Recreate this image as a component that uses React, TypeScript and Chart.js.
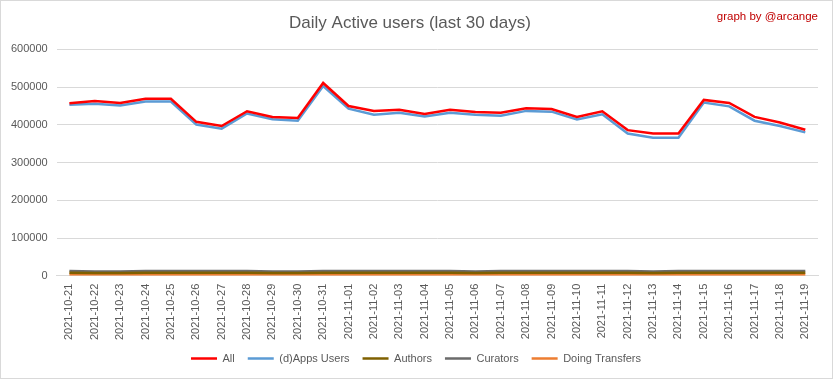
import React, { useEffect, useRef } from "react";
import { Chart, registerables } from "chart.js";

Chart.register(...registerables);

const dates = [
  "2021-10-21", "2021-10-22", "2021-10-23", "2021-10-24", "2021-10-25",
  "2021-10-26", "2021-10-27", "2021-10-28", "2021-10-29", "2021-10-30",
  "2021-10-31", "2021-11-01", "2021-11-02", "2021-11-03", "2021-11-04",
  "2021-11-05", "2021-11-06", "2021-11-07", "2021-11-08", "2021-11-09",
  "2021-11-10", "2021-11-11", "2021-11-12", "2021-11-13", "2021-11-14",
  "2021-11-15", "2021-11-16", "2021-11-17", "2021-11-18", "2021-11-19",
];

const allUsers = [
  457000, 463000, 458000, 469000, 469000, 408000, 397000, 436000, 421000, 418000,
  511000, 450000, 437000, 440000, 429000, 440000, 434000, 432000, 444000, 442000,
  421000, 436000, 386000, 377000, 377000, 466000, 458000, 421000, 406000, 387000,
];

const appsUsers = [
  453000, 456000, 451000, 462000, 462000, 401000, 390000, 430000, 415000, 411000,
  503000, 443000, 427000, 432000, 422000, 432000, 427000, 424000, 437000, 435000,
  414000, 428000, 377000, 366000, 366000, 459000, 449000, 411000, 397000, 380000,
];

const authors = [
  8000, 7500, 7500, 8000, 8000, 8000, 8000, 8000, 7500, 7500,
  8000, 8000, 8000, 8000, 8000, 8000, 7500, 8000, 8000, 8000,
  8000, 8000, 8000, 7500, 8000, 8000, 8000, 8000, 8000, 8000,
];

const curators = [
  12500, 11500, 11500, 12500, 12500, 12500, 12500, 12500, 11500, 11500,
  12500, 12500, 12500, 12500, 12500, 12500, 11500, 12500, 12500, 12500,
  12500, 12500, 12500, 11500, 12500, 12500, 12500, 12500, 12500, 12500,
];

const transfers = [
  3000, 3000, 3000, 3000, 3000, 3000, 3000, 3000, 3000, 3000,
  3000, 3000, 3000, 3000, 3000, 3000, 3000, 3000, 3000, 3000,
  3000, 3000, 3000, 3000, 3000, 3000, 3000, 3000, 3000, 3000,
];

const yTicks = [0, 100000, 200000, 300000, 400000, 500000, 600000];

const FONT = "'Liberation Sans', Arial, sans-serif";
const GRAY = "#595959";

const legendShift = {
  id: "legendShift",
  afterLayout(chart: any) {
    if (chart.legend) {
      chart.legend.left += 6;
      chart.legend.right += 6;
    }
  },
};

export default function App() {
  const ref = useRef<HTMLCanvasElement | null>(null);

  useEffect(() => {
    document.body.style.margin = "0";
    const ctx = ref.current!.getContext("2d")!;
    const mk = (label: string, data: number[], color: string, width: number) => ({
      label,
      data,
      borderColor: color,
      backgroundColor: color,
      borderWidth: width,
      pointRadius: 0,
      pointHoverRadius: 0,
      tension: 0,
      fill: false,
    });
    const chart = new Chart(ctx, {
      type: "line",
      data: {
        labels: dates,
        datasets: [
          mk("All", allUsers, "#ff0000", 2.5),
          mk("(d)Apps Users", appsUsers, "#5b9bd5", 2.5),
          mk("Authors", authors, "#7f6000", 2.5),
          mk("Curators", curators, "#6b6b6b", 2.5),
          mk("Doing Transfers", transfers, "#ed7d31", 2.5),
        ],
      },
      plugins: [legendShift],
      options: {
        animation: false,
        responsive: true,
        maintainAspectRatio: false,
        layout: { padding: { left: 1, right: 14, top: 8, bottom: 4 } },
        plugins: {
          title: {
            display: true,
            text: "Daily Active users (last 30 days)",
            color: GRAY,
            font: { family: FONT, size: 17, weight: "normal" },
            padding: { top: 4, bottom: 16 },
          },
          legend: {
            position: "bottom",
            labels: {
              usePointStyle: true,
              pointStyle: "line",
              pointStyleWidth: 26,
              boxHeight: 8,
              color: GRAY,
              font: { family: FONT, size: 11 },
              padding: 13,
            },
          },
          tooltip: { enabled: false },
        },
        scales: {
          x: {
            type: "category",
            offset: true,
            grid: { display: false },
            border: { display: true, color: "#d9d9d9" },
            ticks: {
              color: GRAY,
              font: { family: FONT, size: 11 },
              maxRotation: 90,
              minRotation: 90,
              autoSkip: false,
              padding: 0,
            },
          },
          y: {
            min: 0,
            max: 600000,
            afterBuildTicks: (axis: any) => {
              axis.ticks = yTicks.map((v) => ({ value: v }));
            },
            grid: { color: "#d9d9d9", drawTicks: false },
            border: { display: false },
            ticks: {
              color: GRAY,
              font: { family: FONT, size: 11 },
              padding: 9,
              callback: (v: any) => String(v),
            },
          },
        },
      },
    } as any);
    return () => chart.destroy();
  }, []);

  return (
    <div
      style={{
        position: "absolute",
        left: 0,
        top: 0,
        width: 833,
        height: 379,
        boxSizing: "border-box",
        border: "1px solid #d9d9d9",
        background: "#fff",
      }}
    >
      <canvas ref={ref} />
      <span
        style={{
          position: "absolute",
          right: 14,
          top: 9,
          color: "#c00000",
          fontFamily: FONT,
          fontSize: 11.5,
        }}
      >
        graph by @arcange
      </span>
    </div>
  );
}
